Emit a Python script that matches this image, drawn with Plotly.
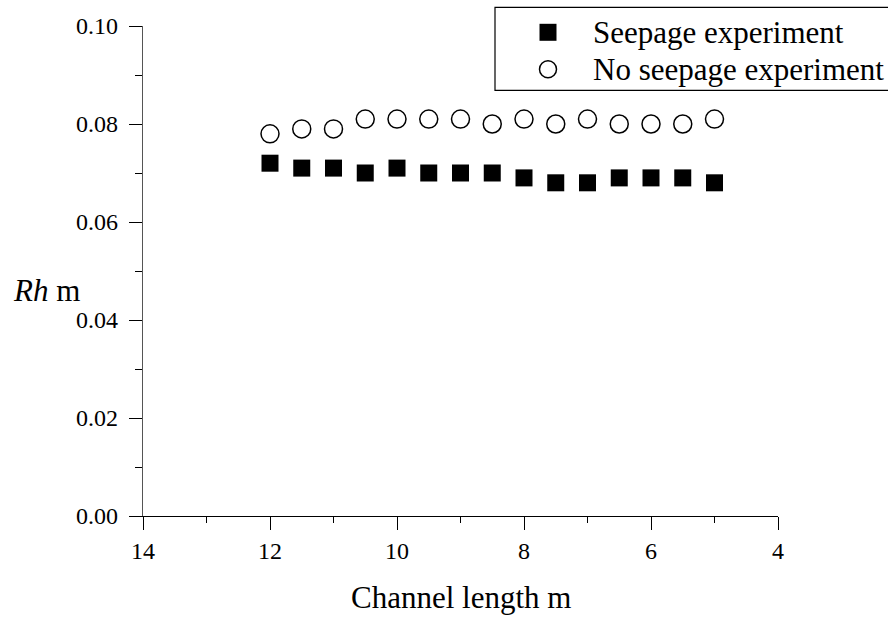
import plotly.graph_objects as go

channel_length = [12, 11.5, 11, 10.5, 10, 9.5, 9, 8.5, 8, 7.5, 7, 6.5, 6, 5.5, 5]
rh_seepage = [0.072, 0.071, 0.071, 0.070, 0.071, 0.070, 0.070, 0.070,
              0.069, 0.068, 0.068, 0.069, 0.069, 0.069, 0.068]
rh_no_seepage = [0.078, 0.079, 0.079, 0.081, 0.081, 0.081, 0.081, 0.080,
                 0.081, 0.080, 0.081, 0.080, 0.080, 0.080, 0.081]
series_names = ["Seepage experiment", "No seepage experiment"]
x_title = "Channel length m"
y_title = "<i>Rh</i> m"

FONT = "Liberation Serif"

# plot-area geometry in pixels (for paper-coordinate conversions)
L, R, T, B = 143, 778, 25.7, 515.7
PW, PH = R - L, B - T


def px_x(px):
    return (px - L) / PW


def px_y(py):
    return (B - py) / PH


fig = go.Figure()
fig.add_trace(go.Scatter(
    x=channel_length, y=rh_seepage, mode="markers", name=series_names[0],
    marker=dict(symbol="square", size=17, color="black", line=dict(width=0)),
    cliponaxis=False, showlegend=False,
))
fig.add_trace(go.Scatter(
    x=channel_length, y=rh_no_seepage, mode="markers", name=series_names[1],
    marker=dict(symbol="circle-open", size=18, color="black", line=dict(width=1.5)),
    cliponaxis=False, showlegend=False,
))

fig.update_layout(
    width=888, height=617,
    margin=dict(l=143, r=110, t=26, b=101, autoexpand=False),
    paper_bgcolor="white", plot_bgcolor="white",
    font=dict(family=FONT, size=24, color="black"),
    showlegend=False,
    xaxis=dict(
        range=[14, 4], tickmode="linear", tick0=4, dtick=2,
        showgrid=False, zeroline=False, automargin=False,
        showline=True, linecolor="black", linewidth=1.3,
        ticks="outside", ticklen=13, tickwidth=1.2, tickcolor="black",
        tickfont=dict(family=FONT, size=24),
        minor=dict(ticks="outside", ticklen=6, tickwidth=1, tickcolor="black",
                   dtick=1, tick0=4, showgrid=False),
    ),
    yaxis=dict(
        range=[0, 0.10], tickmode="linear", tick0=0, dtick=0.02, tickformat=".2f",
        showgrid=False, zeroline=False, automargin=False,
        showline=True, linecolor="#555555", linewidth=1.3,
        ticks="outside", ticklen=13, tickwidth=1.2, tickcolor="black",
        tickfont=dict(family=FONT, size=24),
        ticklabelstandoff=6,
        minor=dict(ticks="outside", ticklen=7, tickwidth=1, tickcolor="black",
                   dtick=0.01, tick0=0, showgrid=False),
    ),
)

# x-axis title
fig.add_annotation(
    xref="paper", yref="paper", x=0.5, y=px_y(597),
    xanchor="center", yanchor="middle", showarrow=False,
    text=x_title, font=dict(family=FONT, size=31, color="black"),
)
# y-axis title (horizontal)
fig.add_annotation(
    xref="paper", yref="paper", x=px_x(11), y=px_y(290),
    xanchor="left", yanchor="middle", showarrow=False,
    text=y_title, font=dict(family=FONT, size=31, color="black"),
)

# legend box
fig.add_shape(type="rect", xref="paper", yref="paper",
              x0=px_x(495), x1=px_x(900), y0=px_y(90), y1=px_y(7),
              line=dict(color="black", width=1.2), fillcolor="rgba(0,0,0,0)")
# legend symbols
fig.add_shape(type="rect", xref="paper", yref="paper",
              xsizemode="pixel", ysizemode="pixel",
              xanchor=px_x(548), yanchor=px_y(32),
              x0=-8.5, x1=8.5, y0=-8.5, y1=8.5,
              line=dict(width=0), fillcolor="black")
fig.add_shape(type="circle", xref="paper", yref="paper",
              xsizemode="pixel", ysizemode="pixel",
              xanchor=px_x(548), yanchor=px_y(69),
              x0=-8.5, x1=8.5, y0=-8.5, y1=8.5,
              line=dict(width=1.5, color="black"), fillcolor="rgba(0,0,0,0)")
# legend texts
for name, py in zip(series_names, [32, 69]):
    fig.add_annotation(
        xref="paper", yref="paper", x=px_x(591), y=px_y(py),
        xanchor="left", yanchor="middle", showarrow=False,
        text=name, font=dict(family=FONT, size=31, color="black"),
    )

fig.write_html("out.html")
